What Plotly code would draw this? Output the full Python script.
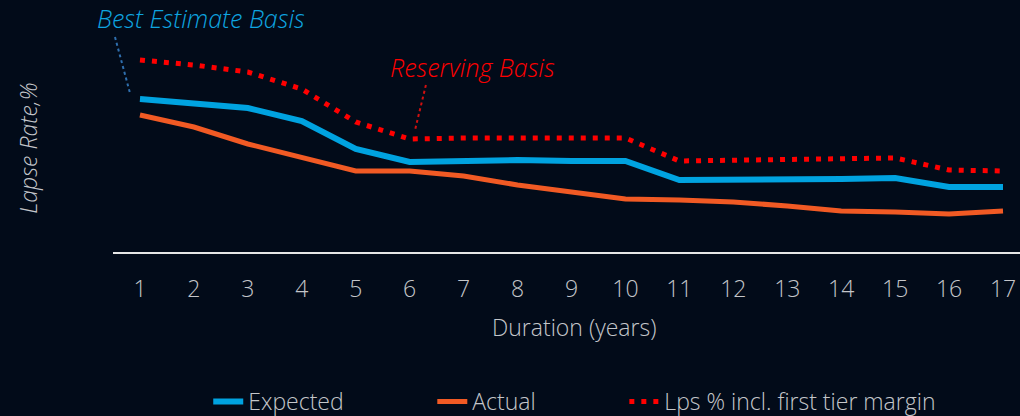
import plotly.graph_objects as go

# Lapse rate by policy duration
durations = list(range(1, 18))
expected = [15.3, 14.9, 14.4, 13.1, 10.3, 9.0, 9.1, 9.2, 9.1, 9.1, 7.2, 7.2, 7.3, 7.3, 7.4, 6.5, 6.5]
actual = [13.7, 12.5, 10.8, 9.5, 8.1, 8.1, 7.6, 6.7, 6.0, 5.3, 5.2, 5.0, 4.6, 4.1, 4.0, 3.8, 4.1]
lps_margin = [19.2, 18.7, 18.0, 16.3, 13.0, 11.3, 11.4, 11.4, 11.4, 11.4, 9.1, 9.2, 9.2, 9.3, 9.4, 8.2, 8.1]

bg = '#020b19'
grey = '#c4c6ca'
font = 'Open Sans'
pad = '\u00a0' * 14  # extra room between legend entries

fig = go.Figure()
fig.add_trace(go.Scatter(x=durations, y=expected, name='Expected' + pad, mode='lines',
                         line=dict(color='#00a3e0', width=6)))
fig.add_trace(go.Scatter(x=durations, y=actual, name='Actual' + pad, mode='lines',
                         line=dict(color='#f15a24', width=5)))
fig.add_trace(go.Scatter(x=durations, y=lps_margin, name='Lps % incl. first tier margin', mode='lines',
                         line=dict(color='#ff0000', width=5, dash='5px,7px')))

fig.update_layout(
    width=1020, height=416,
    paper_bgcolor=bg, plot_bgcolor=bg,
    margin=dict(l=113, r=0, t=40, b=164, autoexpand=False),
    font=dict(family=font, color=grey, size=23, weight=300),
    showlegend=True,
    legend=dict(orientation='h', x=0.105, xanchor='left', y=-0.705, yanchor='middle',
                font=dict(size=23, color=grey, weight=300), bgcolor='rgba(0,0,0,0)'),
)
fig.update_xaxes(range=[0.5, 17.315], tickvals=durations, showgrid=False, zeroline=False,
                 showline=True, linecolor='#e6e6e6', linewidth=2,
                 ticks='', ticklabelstandoff=15,
                 tickfont=dict(size=23, color=grey, family=font, weight=300))
fig.update_yaxes(range=[0, 21.2], showgrid=False, zeroline=False, showticklabels=False, showline=False)

# axis titles
fig.add_annotation(text='Duration (years)', xref='paper', yref='paper', x=0.508, y=-0.354,
                   xanchor='center', yanchor='middle', showarrow=False,
                   font=dict(size=23, color=grey, weight=300))
fig.add_annotation(text='<i>Lapse Rate,%</i>', xref='paper', yref='paper', x=-0.094, y=0.49,
                   xanchor='center', yanchor='middle', textangle=-90, showarrow=False,
                   font=dict(size=23, color=grey, weight=300))

# basis callouts
fig.add_annotation(text='<i>Best Estimate Basis</i>', xref='paper', yref='paper', x=0.097, y=1.104,
                   xanchor='center', yanchor='middle', showarrow=False,
                   font=dict(size=25, color='#0ea5e0'))
fig.add_annotation(text='<i>Reserving Basis</i>', xref='paper', yref='paper', x=0.396, y=0.873,
                   xanchor='center', yanchor='middle', showarrow=False,
                   font=dict(size=25, color='#ff0000'))
fig.add_shape(type='line', xref='paper', yref='paper', x0=0.0022, y0=1.014, x1=0.0187, y1=0.75,
              line=dict(color='#2f6fae', width=2, dash='dot'))
fig.add_shape(type='line', xref='paper', yref='paper', x0=0.345, y0=0.788, x1=0.333, y1=0.575,
              line=dict(color='#d01010', width=2, dash='dot'))

fig.write_html('out.html', config={'displayModeBar': False},
               post_script="document.body.style.margin='0';")
